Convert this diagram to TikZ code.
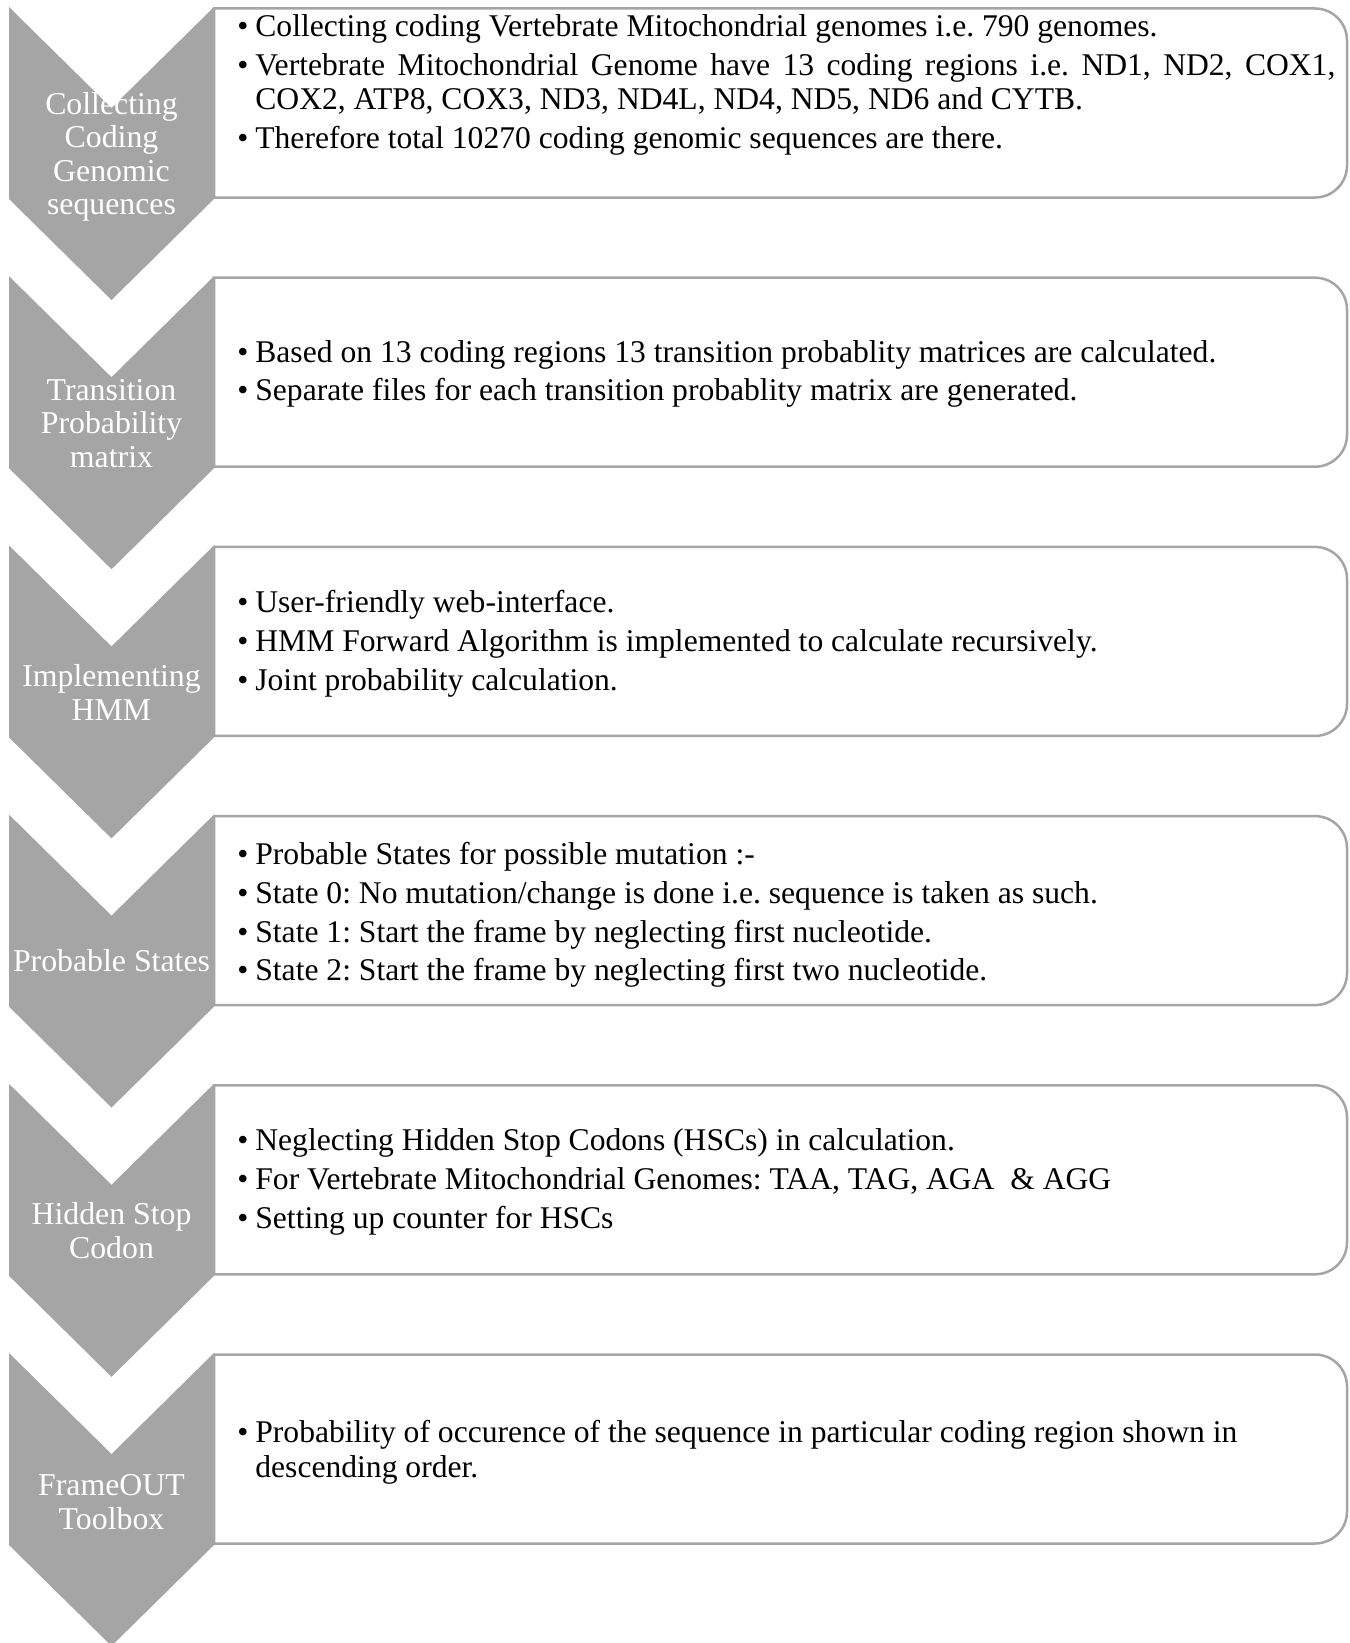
\documentclass[tikz,border=0pt]{standalone}
\usepackage{fontspec}
\setmainfont{Liberation Serif}
\frenchspacing
\definecolor{StepGray}{HTML}{A5A5A5}
\newcommand\bul{\makebox[9pt][l]{\textbullet}}
\newcommand\hang{\hspace*{9pt}}
\tikzset{
  chevron/.style={fill=StepGray, draw=none},
  stepbox/.style={draw=StepGray, line width=1.25pt, fill=white},
  steplabel/.style={text=white, align=center, inner sep=0pt,
                    font=\fontsize{15.9pt}{16.75pt}\selectfont},
  bullets/.style={anchor=west, align=left, inner sep=0pt,
                  font=\fontsize{15.8pt}{17.3pt}\selectfont},
}

\begin{document}
\begin{tikzpicture}[x=0.5pt, y=-0.5pt]
  \useasboundingbox (0,0) rectangle (1349,1643);

  % boxes (rounded on the right) and chevrons on top
  \foreach \i in {0,...,5}{
    \pgfmathsetmacro\t{7+269.2*\i}
    \draw[stepbox] (214,\t+1.5) -- (1315,\t+1.5)
      arc[start angle=-90, end angle=0, radius=32] -- (1347,\t+158.5)
      arc[start angle=0, end angle=90, radius=32] -- (214,\t+190.5) -- cycle;
    \fill[chevron] (9,\t) -- (111.5,\t+101) -- (214,\t) -- (214,\t+192)
      -- (111.5,\t+293) -- (9,\t+192) -- cycle;
  }

  % step names
  \node[steplabel] (collect) at (111.5,157)
    {Collecting\\Coding\\Genomic\\sequences};
  \node[steplabel] (tpm) at (111.5,423.2) {Transition\\Probability\\matrix};
  \node[steplabel] (hmm) at (111.5,692.4) {Implementing\\HMM};
  \node[steplabel] (states) at (111.5,961) {Probable States};
  \node[steplabel] (hsc) at (111.5,1230.8) {Hidden Stop\\Codon};
  \node[steplabel] (toolbox) at (111.5,1502) {FrameOUT\\Toolbox};

  % step details
  \node[bullets] (collecttxt) at (237,85) {%
    \bul Collecting coding Vertebrate Mitochondrial genomes i.e. 790 genomes.\\[2.1pt]
    \bul \makebox[540pt][s]{Vertebrate Mitochondrial Genome have 13 coding regions i.e. ND1, ND2, COX1,}\\
    \hang COX2, ATP8, COX3, ND3, ND4L, ND4, ND5, ND6 and CYTB.\\[2.1pt]
    \bul Therefore total 10270 coding genomic sequences are there.};
  \node[bullets] (tpmtxt) at (237,374) {%
    \bul Based on 13 coding regions 13 transition probablity matrices are calculated.\\[2.1pt]
    \bul Separate files for each transition probablity matrix are generated.};
  \node[bullets] (hmmtxt) at (237,644) {%
    \bul User-friendly web-interface.\\[2.1pt]
    \bul HMM Forward Algorithm is implemented to calculate recursively.\\[2.1pt]
    \bul Joint probability calculation.};
  \node[bullets] (statestxt) at (237,915) {%
    \bul Probable States for possible mutation :-\\[2.1pt]
    \bul State 0: No mutation/change is done i.e. sequence is taken as such.\\[2.1pt]
    \bul State 1: Start the frame by neglecting first nucleotide.\\[2.1pt]
    \bul State 2: Start the frame by neglecting first two nucleotide.};
  \node[bullets] (hsctxt) at (237,1182) {%
    \bul Neglecting Hidden Stop Codons (HSCs) in calculation.\\[2.1pt]
    \bul For Vertebrate Mitochondrial Genomes: TAA, TAG, AGA\ \ \& AGG\\[2.1pt]
    \bul Setting up counter for HSCs};
  \node[bullets] (toolboxtxt) at (237,1452) {%
    \bul Probability of occurence of the sequence in particular coding region shown in\\
    \hang descending order.};

\end{tikzpicture}
\end{document}
